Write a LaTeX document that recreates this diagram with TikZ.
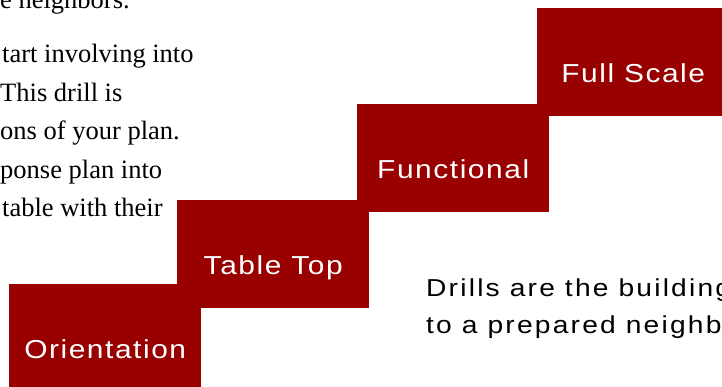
\documentclass[tikz,border=0pt]{standalone}
\usepackage{fontspec}
\setmainfont{Liberation Serif}
\newfontfamily\drillfont[LetterSpace=6,FakeStretch=1.15]{Liberation Sans}
\newfontfamily\notizfont[LetterSpace=9,FakeStretch=1.15]{Liberation Sans}
\definecolor{drillred}{HTML}{990000}

\begin{document}
\begin{tikzpicture}[
       x=1pt, y=-1pt,
       stufe/.style={
         rectangle,
         fill=drillred,
         text=white,
         anchor=north west,
         inner sep=0pt,
         minimum width=192pt,
         text height=74.5pt,
         text depth=33.5pt,
         font=\drillfont\fontsize{26}{31}\selectfont
       },
       zeile/.style={
         anchor=base west,
         inner sep=0pt,
         font=\fontsize{26.5}{32}\selectfont
       },
       notiz/.style={
         anchor=base west,
         inner sep=0pt,
         font=\notizfont\fontsize{24.5}{29}\selectfont
       }
     ]

       \useasboundingbox (0,0) rectangle (722,387);
       \clip (0,0) rectangle (722,387);

       \node (z0) at (0,9) [zeile]{e neighbors.};
       \node (z1) at (2,63) [zeile]{tart involving into};
       \node (z2) at (0,101.5) [zeile]{This drill is};
       \node (z3) at (0,140) [zeile]{ons of your plan.};
       \node (z4) at (0,178.5) [zeile]{ponse plan into};
       \node (z5) at (2,217) [zeile]{table with their};

       \node (orient) at (9,284) [stufe]{Orientation};
       \node (table) at (177,200) [stufe]{Table Top};
       \node (func) at (357,104) [stufe]{Functional};
       \node (full) at (537,8) [stufe]{Full Scale};

       \node (n1) at (426,296) [notiz]{Drills are the building};
       \node (n2) at (426,333) [notiz]{to a prepared neighb};

\end{tikzpicture}
\end{document}
